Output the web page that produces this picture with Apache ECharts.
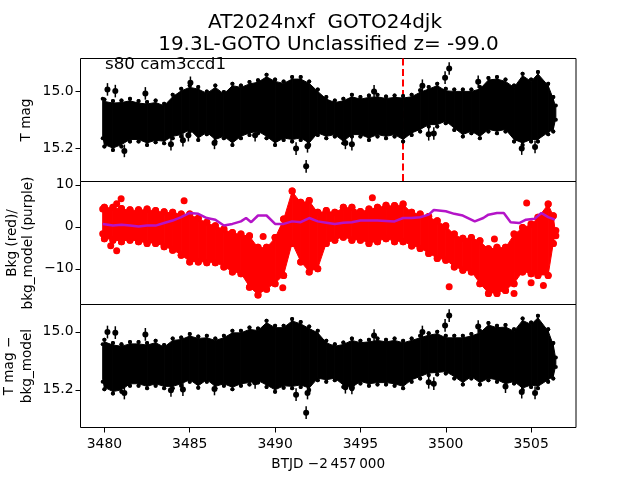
<!DOCTYPE html>
<html>
<head>
<meta charset="utf-8">
<style>
  html, body { margin: 0; padding: 0; background: #fff; }
  #chart { width: 640px; height: 480px; }
</style>
<script src="https://cdn.jsdelivr.net/npm/echarts@6/dist/echarts.min.js"></script>
</head>
<body>
<div id="chart"></div>
<script>
// --- time samples shared by the three bands (BTJD) ---
const times = [3479.9, 3480, 3480.5, 3481, 3481.5, 3482, 3482.5, 3483, 3483.5, 3484, 3484.5, 3485, 3485.5, 3486, 3486.5,
  3487, 3487.5, 3488, 3488.5, 3489, 3489.5, 3490, 3490.5, 3491, 3491.5, 3492, 3492.5, 3493, 3493.5, 3494, 3494.5,
  3495, 3495.5, 3496, 3496.5, 3497, 3497.5, 3498, 3498.5, 3499, 3499.5, 3500, 3500.5, 3501, 3501.5, 3502, 3502.5,
  3503, 3503.5, 3504, 3504.5, 3505, 3505.4, 3506, 3506.3, 3506.45]

// --- top panel: T mag envelope ---
const magTop = [15.019, 15.021, 15.027, 15.025, 15.019, 15.027, 15.030, 15.025, 15.036, 15.005, 14.984, 14.972, 14.978, 14.993, 14.972,
  14.995, 14.966, 14.972, 14.960, 14.954, 14.935, 14.951, 14.958, 14.943, 14.943, 14.958, 14.986, 15.013, 15.025, 15.019, 15.005,
  15.013, 15.007, 15.005, 15.011, 15.007, 15.009, 15.005, 14.989, 14.978, 14.966, 14.984, 14.986, 14.986, 14.986, 14.978, 14.946,
  14.943, 14.951, 14.972, 14.931, 14.951, 14.925, 14.966, 15.013, 15.042]
const magBot = [15.171, 15.200, 15.212, 15.200, 15.182, 15.182, 15.194, 15.185, 15.188, 15.171, 15.165, 15.147, 15.177, 15.157, 15.182,
  15.171, 15.194, 15.171, 15.159, 15.153, 15.171, 15.194, 15.177, 15.182, 15.177, 15.194, 15.159, 15.171, 15.165, 15.188, 15.165,
  15.165, 15.177, 15.165, 15.171, 15.165, 15.182, 15.159, 15.147, 15.130, 15.130, 15.118, 15.142, 15.165, 15.153, 15.171, 15.147,
  15.153, 15.147, 15.182, 15.194, 15.182, 15.182, 15.157, 15.147, 15.106]
const magOutT = [3480.18, 3480.64, 3482.4, 3481.17, 3485.04, 3491.23, 3491.82, 3491.9, 3483.9, 3484.6, 3484.92, 3486.45, 3488.83,
  3500.2, 3499.96, 3498.63, 3495.8, 3501.9, 3494.12, 3494.5, 3499, 3499.3, 3504.45, 3505.23]
const magOutV = [14.993, 14.999, 15.007, 15.208, 14.970, 15.200, 15.262, 15.192, 15.185, 15.171, 15.153, 15.180, 15.153,
  14.920, 14.952, 14.980, 15.000, 14.966, 15.180, 15.185, 15.150, 15.147, 15.200, 15.194]

// --- middle panel: background envelope and model ---
const bkgTop = [5.1, 5.5, 5.5, 5.2, 4.9, 4.9, 5.1, 4.7, 4.4, 4.3, 3.9, 3.9, 2.9, 1.9, 1.1,
  0.3, -0.5, -0.9, -1.3, -4.0, -4.0, -1.7, 2.7, 9.4, 6.7, 7.1, 4.3, 4.7, 4.3, 5.5, 5.5,
  4.5, 5.1, 5.5, 6.0, 5.9, 6.3, 4.3, 3.9, 3.3, 2.3, 1.1, -0.9, -1.9, -1.7, -2.5, -4.4,
  -4.0, -4.0, -0.9, 0.7, 1.5, 3.1, 6.3, 3.5, -1.3]
const bkgBot = [-2.5, -3.7, -4.0, -4.4, -4.0, -4.4, -4.8, -4.8, -5.6, -6.4, -7.6, -9.2, -9.2, -9.4, -9.4,
  -10.4, -11.6, -12.0, -15.2, -17.1, -15.7, -14.4, -12.4, -4.8, -9.2, -11.6, -10.8, -4.8, -4.0, -3.3, -4.0,
  -4.0, -4.8, -4.4, -3.7, -4.4, -4.4, -5.4, -6.0, -7.2, -8.4, -8.8, -10.4, -11.2, -11.6, -14.4, -16.7,
  -16.7, -16.0, -14.4, -11.6, -12.0, -12.4, -12.4, -4.8, -1.7]
const bkgOutT = [3480.98, 3484.67, 3480.72, 3480.37, 3480.72, 3489.3, 3490.45, 3495.7, 3504.74, 3500.2, 3502.85, 3505.72, 3505, 3504]
const bkgOutV = [6.7, 6.2, 5.5, -4.5, -5.7, -2.3, -14.5, 6.9, 5.7, -14.3, -2.9, -14, -13.3, -15.9]
const modelT = [3479.9, 3480, 3480.5, 3481, 3481.5, 3482, 3482.5, 3483, 3483.5, 3484, 3484.5, 3485, 3485.5, 3486, 3486.5, 3487, 3487.5,
  3488, 3488.3, 3488.6, 3489, 3489.5, 3490, 3490.5, 3491, 3491.5, 3492, 3492.5, 3493, 3493.5, 3494, 3494.5, 3495, 3496, 3497, 3497.5,
  3498, 3498.5, 3499, 3499.3, 3500, 3500.5, 3501, 3501.7, 3502.2, 3502.5, 3503, 3503.4, 3503.8, 3504.3, 3504.7, 3505.2, 3505.6, 3506, 3506.4]
const modelV = [0.7, 0.7, 0.3, 0.5, 0.3, 0.1, 0.3, 0.3, 0.9, 1.5, 2.3, 3.3, 3.1, 2.1, 1.7, 0.3, 0.7,
  1.3, 2.1, 1.1, 2.7, 2.7, 0.7, 0.7, 1.3, 1.1, 2.1, 1.3, 1.0, 0.7, 1.0, 1.1, 1.5, 1.5, 1.3, 2.1,
  2.1, 2.3, 2.9, 4.0, 3.7, 3.1, 2.7, 1.3, 2.1, 2.9, 3.3, 3.3, 1.1, 0.9, 1.7, 1.9, 3.3, 2.3, 1.7]

// --- bottom panel: T mag minus model ---
const subTop = [15.036, 15.021, 15.032, 15.036, 15.028, 15.028, 15.032, 15.024, 15.039, 15.016, 15.013, 15.001, 15.009, 15.007, 15.016,
  15.007, 14.990, 14.990, 14.978, 14.982, 14.955, 14.972, 14.972, 14.949, 14.959, 14.975, 14.990, 15.024, 15.036, 15.030, 15.016,
  15.024, 15.021, 15.016, 15.021, 15.016, 15.024, 15.016, 15.007, 14.998, 14.993, 15.007, 15.007, 15.007, 15.001, 14.990, 14.963,
  14.972, 14.970, 14.984, 14.947, 14.961, 14.938, 14.984, 15.032, 15.082]
const subBot = [15.179, 15.205, 15.220, 15.214, 15.193, 15.193, 15.202, 15.193, 15.202, 15.202, 15.193, 15.179, 15.200, 15.179, 15.202,
  15.193, 15.205, 15.193, 15.189, 15.182, 15.197, 15.214, 15.200, 15.202, 15.197, 15.208, 15.174, 15.179, 15.174, 15.197, 15.205,
  15.185, 15.193, 15.189, 15.189, 15.193, 15.202, 15.179, 15.168, 15.156, 15.154, 15.151, 15.168, 15.189, 15.168, 15.189, 15.174,
  15.179, 15.193, 15.185, 15.208, 15.197, 15.202, 15.179, 15.168, 15.128]
const subOutT = [3480.18, 3480.64, 3482.4, 3481.17, 3483.9, 3484.6, 3486.45, 3491.23, 3491.82, 3491.9, 3488.83,
  3500.2, 3499.96, 3498.63, 3495.8, 3501.9, 3494.12, 3494.5, 3499, 3499.3, 3504.45, 3505.23, 3503.5]
const subOutV = [15.001, 15.003, 15.009, 15.211, 15.202, 15.199, 15.197, 15.217, 15.279, 15.211, 15.174,
  14.944, 14.978, 15.001, 15.013, 14.982, 15.191, 15.193, 15.174, 15.179, 15.208, 15.211, 15.189]

const errBar = 0.022       // 离群点误差棒的半长
const eventT = 3497.5      // 红色虚线
const xTicks = [3480, 3485, 3490, 3495, 3500, 3505]
const magTicks = [15.0, 15.2]
const bkgTicks = [-10, 0, 10]

const FONT = 'DejaVu Sans'
const chart = echarts.init(document.getElementById('chart'))

// --- 相邻两个采样之间画一块多边形，顶点放小圆点，边缘才有原图那种疙瘩感 ---
const bandData = (lo, hi) => times.slice(0, -1).map((t, i) => [t, lo[i], hi[i], times[i + 1], lo[i + 1], hi[i + 1]])
const bandSeries = (idx, lo, hi, color, r, bump, z) => ({
  type: 'custom', xAxisIndex: idx, yAxisIndex: idx, z, silent: true,
  data: bandData(lo, hi),
  encode: { x: [0, 3], y: [1, 2, 4, 5] },
  renderItem: (params, api) => {
    const a1 = api.coord([api.value(0), api.value(1)])
    const a2 = api.coord([api.value(0), api.value(2)])
    const b1 = api.coord([api.value(3), api.value(4)])
    const b2 = api.coord([api.value(3), api.value(5)])
    // 读数是外缘，圆心往里收一个半径，多边形再收 bump
    const aT = Math.min(a1[1], a2[1]), aB = Math.max(a1[1], a2[1])
    const bT = Math.min(b1[1], b2[1]), bB = Math.max(b1[1], b2[1])
    const p = r + bump
    const dot = (x, y) => ({ type: 'circle', shape: { cx: x, cy: y, r }, style: { fill: color } })
    return { type: 'group', children: [
      { type: 'polygon', shape: { points: [[a1[0], aT + p], [b1[0], bT + p], [b1[0], bB - p], [a1[0], aB - p]] },
        style: { fill: color, stroke: color, lineWidth: 1 } },
      dot(a1[0], aT + r), dot(a1[0], aB - r), dot(b1[0], bT + r), dot(b1[0], bB - r)
    ] }
  }
})

// 黑色离群点：圆点 + 竖直误差棒
const outlierSeries = (idx, ts, vs) => ({
  type: 'custom', xAxisIndex: idx, yAxisIndex: idx, z: 4, silent: true,
  data: ts.map((t, i) => [t, vs[i]]),
  encode: { x: 0, y: 1 },
  renderItem: (params, api) => {
    const c = api.coord([api.value(0), api.value(1)])
    const a = api.coord([api.value(0), api.value(1) - errBar])
    const b = api.coord([api.value(0), api.value(1) + errBar])
    return { type: 'group', children: [
      { type: 'line', shape: { x1: a[0], y1: a[1], x2: b[0], y2: b[1] }, style: { stroke: '#000', lineWidth: 1.5 } },
      { type: 'circle', shape: { cx: c[0], cy: c[1], r: 3 }, style: { fill: '#000' } }
    ] }
  }
})

const makeX = (idx, showLabel) => ({
  type: 'value', gridIndex: idx, min: 3478.6, max: 3507.63, scale: true,
  splitLine: { show: false },
  axisLine: { show: false },
  axisTick: { show: showLabel, length: 5, customValues: xTicks, lineStyle: { color: '#000', width: 1 } },
  axisLabel: { show: showLabel, customValues: xTicks, color: '#000', fontFamily: FONT, fontSize: 13.9, margin: 10, formatter: v => String(v) },
  name: showLabel ? 'BTJD −2\u2009457\u2009000' : '',
  nameLocation: 'middle', nameGap: 30, nameMoveOverlap: false,
  nameTextStyle: { color: '#000', fontFamily: FONT, fontSize: 13.6 }
})

const makeY = (idx, min, max, inverse, ticks, name, fmt, gap, lineH) => ({
  type: 'value', gridIndex: idx, min, max, inverse, scale: true,
  splitLine: { show: false },
  axisLine: { show: false },
  axisTick: { length: 5, customValues: ticks, lineStyle: { color: '#000', width: 1 } },
  axisLabel: { customValues: ticks, color: '#000', fontFamily: FONT, fontSize: 13.9, margin: 7, formatter: fmt },
  name, nameLocation: 'middle', nameGap: gap, nameRotate: 90, nameMoveOverlap: false,
  nameTextStyle: { color: '#000', fontFamily: FONT, fontSize: 13.6, lineHeight: lineH }
})

const GRID = { left: 80.5, width: 495.5, height: 123, show: true, borderColor: '#000', borderWidth: 1, backgroundColor: '#fff', outerBoundsMode: 'none' }
const fmtMag = v => v.toFixed(1)
const fmtBkg = v => String(v).replace('-', '−')

chart.setOption({
  animation: false,
  backgroundColor: '#fff',
  title: [
    { text: 'AT2024nxf  GOTO24djk', left: 320, top: 8, textAlign: 'center',
      textStyle: { fontFamily: FONT, fontSize: 20, fontWeight: 'normal', color: '#000' } },
    { text: '19.3L-GOTO Unclassified z= -99.0', left: 323.5, top: 30, textAlign: 'center',
      textStyle: { fontFamily: FONT, fontSize: 20, fontWeight: 'normal', color: '#000' } },
    { text: 's80 cam3ccd1', left: 100, top: 51,
      textStyle: { fontFamily: FONT, fontSize: 16.7, fontWeight: 'normal', color: '#000' } }
  ],
  grid: [
    { ...GRID, top: 58.5 },
    { ...GRID, top: 181.5 },
    { ...GRID, top: 304.5 }
  ],
  xAxis: [makeX(0, false), makeX(1, false), makeX(2, true)],
  yAxis: [
    makeY(0, 14.885, 15.315, true, magTicks, 'T mag', fmtMag, 46, 16),
    makeY(1, -18.5, 10.8, false, bkgTicks, 'Bkg (red)/\nbkg_model (purple)', fmtBkg, 44.5, 16),
    makeY(2, 14.906, 15.33, true, magTicks, 'T mag −\nbkg_model', fmtMag, 44.5, 18)
  ],
  series: [
    // 事件时刻的红色虚线，压在黑色带子下面
    { type: 'line', xAxisIndex: 0, yAxisIndex: 0, data: [], z: 1,
      markLine: { z: 1, silent: true, symbol: 'none', label: { show: false }, animation: false,
        lineStyle: { color: '#ff0000', type: [7, 3.5], width: 2 }, data: [{ xAxis: eventT }] } },
    bandSeries(0, magBot, magTop, '#000', 2, 2, 3),
    outlierSeries(0, magOutT, magOutV),

    bandSeries(1, bkgBot, bkgTop, '#ff0000', 3.5, 0.5, 3),
    { type: 'scatter', xAxisIndex: 1, yAxisIndex: 1, z: 4, symbolSize: 7, silent: true,
      itemStyle: { color: '#ff0000', opacity: 1 }, data: bkgOutT.map((t, i) => [t, bkgOutV[i]]) },
    { type: 'line', xAxisIndex: 1, yAxisIndex: 1, z: 5, showSymbol: false, silent: true,
      lineStyle: { color: '#b414c8', width: 2.5 }, data: modelT.map((t, i) => [t, modelV[i]]) },

    bandSeries(2, subBot, subTop, '#000', 2, 2, 3),
    outlierSeries(2, subOutT, subOutV)
  ]
})
</script>
</body>
</html>
